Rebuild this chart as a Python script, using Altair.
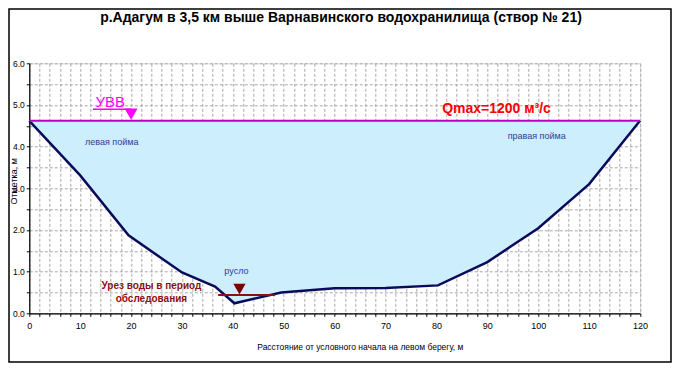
import altair as alt
import pandas as pd

# ---- data ----
DIST = [0, 10, 19.5, 30, 36.5, 40.3, 49.5, 60, 70, 80.3, 90, 100, 110, 120]
ELEV = [4.62, 3.31, 1.87, 0.98, 0.64, 0.24, 0.50, 0.60, 0.61, 0.67, 1.23, 2.04, 3.10, 4.62]
WATER_LEVEL = 4.62          # УВВ
LOW_WATER = 0.44            # урез воды в период обследования
LOW_WATER_X = [37.1, 48.3]

TITLE = "р.Адагум в 3,5 км выше Варнавинского водохранилища (створ № 21)"
X_TITLE = "Расстояние от условного начала на левом берегу, м"
Y_TITLE = "Отметка, м"

X_TICKS = list(range(0, 121, 2))
Y_TICKS = [i * 0.5 for i in range(13)]

LABELS = ["левая пойма", "правая пойма", "русло"]
LABEL_X = [16.2, 99.7, 40.7]
LABEL_Y = [4.12, 4.25, 1.02]

UREZ_TEXT = ["Урез воды в период", "обследования"]
UREZ_TEXT_X = [24.0, 24.0]
UREZ_TEXT_Y = [0.65, 0.34]

W, H = 610.7, 250
FONT = "Liberation Sans"

prof = pd.DataFrame({"x": DIST, "y": ELEV, "lvl": [WATER_LEVEL] * len(DIST)})
xs = alt.Scale(domain=[0, 120], nice=False)
ys = alt.Scale(domain=[0, 6], nice=False)

base = alt.Chart(prof)

area = base.mark_area(color="#cdeffd", opacity=1).encode(
    x=alt.X("x:Q", scale=xs, axis=alt.Axis(
        values=X_TICKS, tickCount=200,
        labelExpr="datum.value % 10 == 0 ? datum.label : ''",
        format="d", title=None, grid=True, gridColor="#a8a8a8", gridDash=[3, 2],
        gridWidth=1, domainColor="black", domainWidth=1.2, tickColor="black",
        tickSize=3, labelPadding=5, labelFontSize=9, labelFont=FONT, labelColor="black",
        labelOverlap=False, labelFlush=False)),
    y=alt.Y("y:Q", scale=ys, axis=alt.Axis(
        values=Y_TICKS, tickCount=200,
        labelExpr="datum.value % 1 == 0 ? datum.label : ''",
        format=".1f", title=None, grid=True, gridColor="#a8a8a8", gridDash=[3, 2],
        gridWidth=1, domainColor="black", domainWidth=1.2, tickColor="black",
        tickSize=3, labelPadding=2, labelFontSize=8.5, labelFont=FONT, labelColor="black",
        labelOverlap=False, labelFlush=False)),
    y2="lvl:Q",
)

bank = base.mark_line(color="#0b0b5c", strokeWidth=2.5).encode(
    x=alt.X("x:Q", scale=xs), y=alt.Y("y:Q", scale=ys))

wl = pd.DataFrame({"x": [0, 120], "y": [WATER_LEVEL, WATER_LEVEL]})
water = alt.Chart(wl).mark_line(color="#c000c0", strokeWidth=2).encode(
    x=alt.X("x:Q", scale=xs), y=alt.Y("y:Q", scale=ys))

lw = pd.DataFrame({"x": LOW_WATER_X, "y": [LOW_WATER, LOW_WATER]})
lowline = alt.Chart(lw).mark_line(color="#8b1010", strokeWidth=2).encode(
    x=alt.X("x:Q", scale=xs), y=alt.Y("y:Q", scale=ys))

tri_red = alt.Chart(pd.DataFrame({"x": [41.3], "y": [LOW_WATER + 0.14]})).mark_point(
    shape="triangle-down", filled=True, color="#7a0000", size=150, opacity=1).encode(
    x=alt.X("x:Q", scale=xs), y=alt.Y("y:Q", scale=ys))

tri_mag = alt.Chart(pd.DataFrame({"x": [20.0], "y": [WATER_LEVEL + 0.16]})).mark_point(
    shape="triangle-down", filled=True, color="#ff00ff", size=170, opacity=1).encode(
    x=alt.X("x:Q", scale=xs), y=alt.Y("y:Q", scale=ys))

uvv = alt.Chart(pd.DataFrame({"x": [15.9], "y": [5.08], "t": ["УВВ"]})).mark_text(
    color="#ff00ff", fontSize=15, font=FONT).encode(
    x=alt.X("x:Q", scale=xs), y=alt.Y("y:Q", scale=ys), text="t:N")

uvv_ul = alt.Chart(pd.DataFrame({"x": [12.5, 20.1], "y": [4.9, 4.9]})).mark_line(
    color="#ff00ff", strokeWidth=1.5).encode(
    x=alt.X("x:Q", scale=xs), y=alt.Y("y:Q", scale=ys))

qmax = alt.Chart(pd.DataFrame({"x": [91.8], "y": [4.9], "t": ["Qmax=1200  м³/с"]})).mark_text(
    color="#ff0000", fontSize=14, fontWeight="bold", font=FONT).encode(
    x=alt.X("x:Q", scale=xs), y=alt.Y("y:Q", scale=ys), text="t:N")

labels = alt.Chart(pd.DataFrame({"x": LABEL_X, "y": LABEL_Y, "t": LABELS})).mark_text(
    color="#3535a0", fontSize=9, font=FONT).encode(
    x=alt.X("x:Q", scale=xs), y=alt.Y("y:Q", scale=ys), text="t:N")

urez = alt.Chart(pd.DataFrame({"x": UREZ_TEXT_X, "y": UREZ_TEXT_Y, "t": UREZ_TEXT})).mark_text(
    color="#8b1010", fontSize=10, fontWeight="bold", font=FONT).encode(
    x=alt.X("x:Q", scale=xs), y=alt.Y("y:Q", scale=ys), text="t:N")

one = pd.DataFrame({"a": [0]})
title = alt.Chart(one).mark_text(fontSize=14, fontWeight="bold", font=FONT, color="black").encode(
    x=alt.value(311.7), y=alt.value(-45), text=alt.value(TITLE))
xtitle = alt.Chart(one).mark_text(fontSize=8.5, font=FONT, color="black").encode(
    x=alt.value(331), y=alt.value(H + 34), text=alt.value(X_TITLE))
ytitle = alt.Chart(one).mark_text(fontSize=9, font=FONT, color="black", angle=270).encode(
    x=alt.value(-15.5), y=alt.value(118), text=alt.value(Y_TITLE))
frame = alt.Chart(one).mark_rect(fill=None, stroke="black", strokeWidth=1.5).encode(
    x=alt.value(-20.3), x2=alt.value(641.7), y=alt.value(-54.3), y2=alt.value(H + 48.7))

chart = alt.layer(
    area, bank, water, lowline, tri_red, tri_mag, uvv, uvv_ul, qmax, labels, urez,
    title, xtitle, ytitle, frame
).properties(
    width=W, height=H,
    autosize=alt.AutoSizeParams(type="none"),
    padding={"left": 21.3, "top": 55.3, "right": 32, "bottom": 50},
).configure_view(stroke=None).configure(background="white")

chart.save("out.html", embed_options={"renderer": "svg", "actions": False})
